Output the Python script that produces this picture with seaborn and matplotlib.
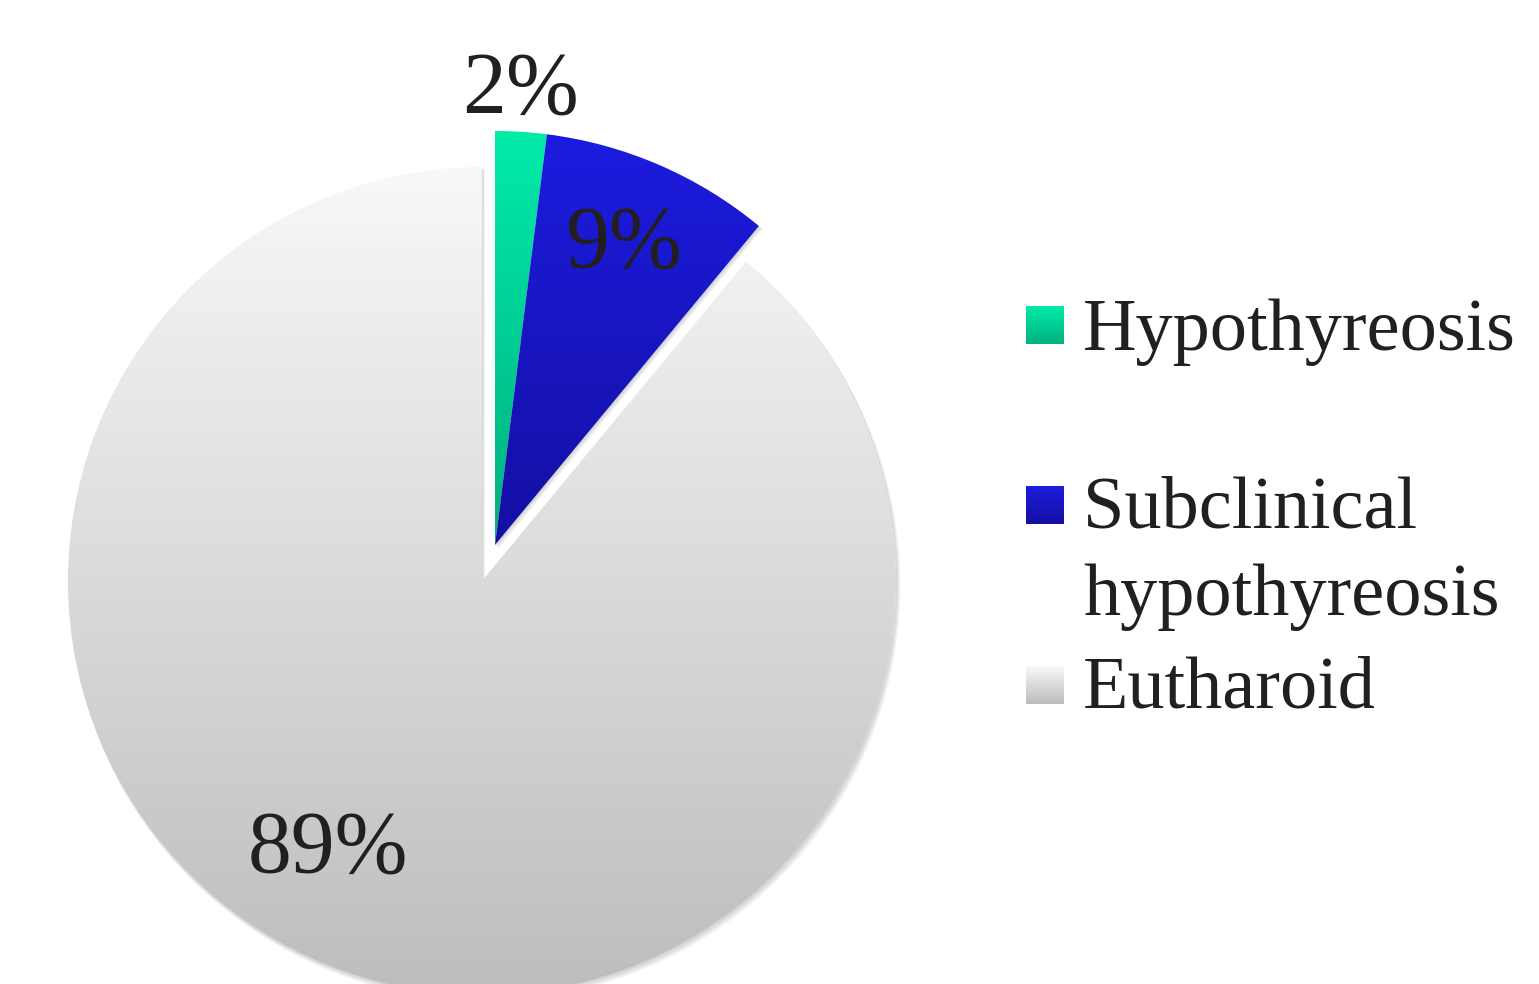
import numpy as np
import matplotlib
matplotlib.use("Agg")
import matplotlib.pyplot as plt
from matplotlib.colors import LinearSegmentedColormap
from matplotlib.patches import Wedge, Rectangle
import seaborn as sns

# Thyroid status shares (percent)
categories = ["Hypothyreosis", "Subclinical\nhypothyreosis", "Eutharoid"]
shares = [2, 9, 89]
pct_labels = [f"{v}%" for v in shares]

# Vertical gradient colours for each slice (top -> bottom)
top_colors = ["#00EBAA", "#1C1CE0", "#F8F8F8"]
bottom_colors = ["#00B07E", "#140FA2", "#BDBDBD"]

sns.set_theme(style="white")
plt.rcParams["font.family"] = ["Liberation Serif", "DejaVu Serif"]

W, H = 1539, 984
fig = plt.figure(figsize=(W / 100, H / 100), dpi=100)
fig.patch.set_facecolor("white")
ax = fig.add_axes([0, 0, 1, 1])

# pie geometry in pixel units (y axis points up)
cx, cy, r = 482, H - 581, 414
shift = (13, 36)  # the two small slices are pulled out together

wedges, _ = ax.pie(shares, center=(cx, cy), radius=r, startangle=90,
                   counterclock=False, wedgeprops=dict(linewidth=0))
for w in wedges[:2]:
    w.set_center((cx + shift[0], cy + shift[1]))


def gradient_fill(axis, patch, c_top, c_bot, extent, z):
    cmap = LinearSegmentedColormap.from_list("g", [c_bot, c_top])
    grad = np.linspace(0, 1, 256).reshape(-1, 1)
    im = axis.imshow(grad, extent=extent, origin="lower", cmap=cmap,
                     aspect="auto", interpolation="bilinear", zorder=z)
    im.set_clip_path(patch)
    return im


for i, w in enumerate(wedges):
    w.set_facecolor("none")
    w.set_edgecolor("none")
    w.set_zorder(3)
    # soft drop shadow
    for k in range(1, 6):
        sh = Wedge((w.center[0] + 0.6 * k, w.center[1] - 0.9 * k), w.r + 0.3 * k,
                   w.theta1, w.theta2, facecolor="black", edgecolor="none",
                   alpha=0.035, zorder=1)
        ax.add_patch(sh)
    base = Wedge(w.center, w.r, w.theta1, w.theta2, facecolor="white",
                 edgecolor="none", zorder=2)
    ax.add_patch(base)
    v = w.get_path().vertices
    if i == 2:
        ext = [cx - r, cx + r, cy - r, cy + r]
    else:
        ext = [v[:, 0].min(), v[:, 0].max(), v[:, 1].min(), v[:, 1].max()]
    gradient_fill(ax, w, top_colors[i], bottom_colors[i], ext, 3)

# percentage labels
text_color = "#231F20"
pct_pos = [(520, 113), (623, 267), (328, 872)]
for txt, (x, yb) in zip(pct_labels, pct_pos):
    ax.text(x, H - yb, txt, ha="center", va="baseline", fontsize=63,
            color=text_color, zorder=5)

# legend: square marker aligned with the first text line of each entry
sq = 38
line_step = 87
legend_rows = [(306, 350), (486, 528), (666, 708)]
for i, (cat, (ytop, ybase)) in enumerate(zip(categories, legend_rows)):
    rect = Rectangle((1026, H - ytop - sq), sq, sq, facecolor="none",
                     edgecolor="none", zorder=4)
    ax.add_patch(rect)
    gradient_fill(ax, rect, top_colors[i], bottom_colors[i],
                  [1026, 1026 + sq, H - ytop - sq, H - ytop], 4)
    for j, line in enumerate(cat.split("\n")):
        ax.text(1083, H - ybase - j * line_step, line, ha="left",
                va="baseline", fontsize=53.5, color=text_color, zorder=5)

ax.set_xlim(0, W)
ax.set_ylim(0, H)
ax.set_aspect("equal")
ax.axis("off")

fig.savefig("out.png", dpi=100, facecolor="white")
